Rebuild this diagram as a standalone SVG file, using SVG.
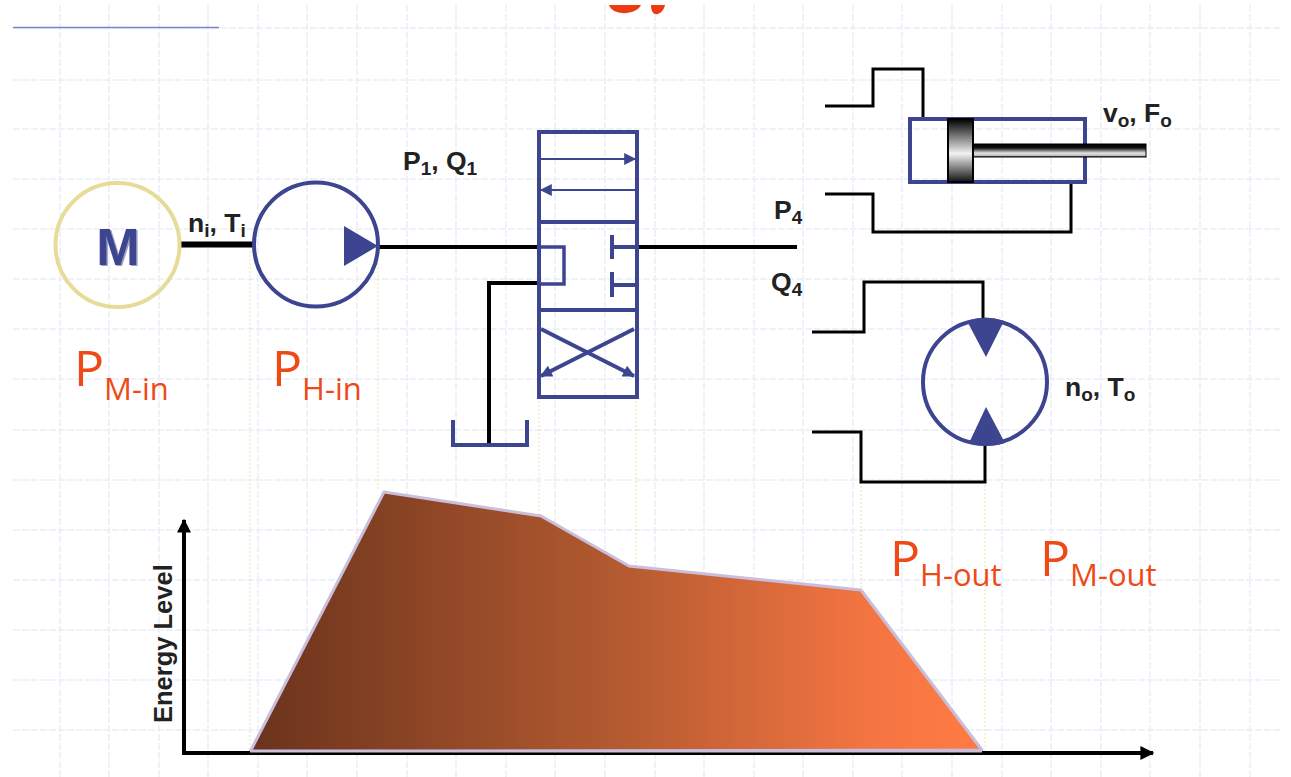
<svg xmlns="http://www.w3.org/2000/svg" width="1291" height="777" viewBox="0 0 1291 777">
<style>
.grid{stroke:#eceef7;stroke-width:1.500;stroke-dasharray:7 2;fill:none}
.blue{stroke:#3d4490;fill:none;stroke-linejoin:miter}
.fillb{fill:#3d4490}
.blk{stroke:#000;fill:none;stroke-linejoin:miter}
.guide{stroke:#e6e4a8;stroke-width:1;stroke-dasharray:2 2;fill:none}
.lab{font-family:"Liberation Sans",Arial,sans-serif;font-weight:700;font-size:26.500px;fill:#222}
.sub{font-size:19px}
.pw{font-family:"Open Sans","Noto Sans",sans-serif;font-size:50px;fill:#ee4a17}
.pws{font-size:31px}
</style>
<defs>
<linearGradient id="area" x1="250" x2="982" y1="0" y2="0" gradientUnits="userSpaceOnUse">
<stop offset="0" stop-color="#6a331c"/><stop offset="0.5" stop-color="#b35a30"/><stop offset="0.85" stop-color="#f47542"/><stop offset="1" stop-color="#ff7b45"/>
</linearGradient>
<linearGradient id="steel" x1="0" x2="0" y1="0" y2="1">
<stop offset="0" stop-color="#000"/><stop offset="0.55" stop-color="#f2f2f2"/><stop offset="1" stop-color="#111"/>
</linearGradient>
<linearGradient id="rod" x1="0" x2="0" y1="0" y2="1">
<stop offset="0" stop-color="#000"/><stop offset="0.3" stop-color="#111"/><stop offset="0.7" stop-color="#e4e4e4"/><stop offset="0.9" stop-color="#bbb"/><stop offset="1" stop-color="#222"/>
</linearGradient>
<marker id="ah" viewBox="0 0 10 10" refX="9" refY="5" markerWidth="14" markerHeight="12" markerUnits="userSpaceOnUse" orient="auto"><path d="M0 0L10 5L0 10Z" fill="#3d4490"/></marker>
<marker id="bk" viewBox="0 0 10 10" refX="9" refY="5" markerWidth="14" markerHeight="14" markerUnits="userSpaceOnUse" orient="auto"><path d="M0 0L10 5L0 10Z" fill="#000"/></marker>
</defs>
<rect width="1291" height="777" fill="#fff"/>
<g id="grid" class="grid">
<path d="M60 5V777M109 5V777M159 5V777M208 5V777M258 5V777M307 5V777M357 5V777M407 5V777M456 5V777M506 5V777M555 5V777M605 5V777M655 5V777M704 5V777M754 5V777M803 5V777M853 5V777M902 5V777M952 5V777M1002 5V777M1051 5V777M1101 5V777M1150 5V777M1200 5V777M1250 5V777"/>
<path d="M13 28H1280M13 80H1280M13 129H1280M13 179H1280M13 229H1280M13 279H1280M13 329H1280M13 379H1280M13 430H1280M13 480H1280M13 530H1280M13 580H1280M13 630H1280M13 680H1280M13 730H1280"/>
</g>
<g id="header">
<path d="M13 27.500H219" stroke="#7a83cc" stroke-width="1.500" fill="none"/>
<path d="M609 5H641C638 12 625 15 617 12C613 11 610 8 609 5Z" fill="#ee3a10"/>
<path d="M651 5H665C664 10 660 15 655 14C652 13 651 9 651 5Z" fill="#ee3a10"/>
</g>
<g id="guides" class="guide">
<path d="M250 247V750M378 247V490M539 397V516M636 397V566M861 482V590M985 445V750"/>
</g>
<g id="connectors">
<path class="blk" stroke-width="6" d="M180 244.500H253"/>
<path class="blk" stroke-width="4" d="M378 247H538"/>
<path class="blk" stroke-width="4" d="M637 247H797"/>
<path class="blk" stroke-width="4" d="M538 283H489V444"/>
<path class="blk" stroke-width="3" d="M825 106H873V69H923V119"/>
<path class="blk" stroke-width="3" d="M825 194H873V232H1071V182"/>
<path class="blk" stroke-width="3" d="M812 332H864V282H983V318"/>
<path class="blk" stroke-width="3" d="M812 432H861V482H985V445"/>
</g>
<g id="motor">
<circle cx="117.500" cy="245" r="62" fill="none" stroke="#e6dc98" stroke-width="4"/>
<text x="119.500" y="266" text-anchor="middle" font-family="Liberation Sans,sans-serif" font-weight="700" font-size="52" fill="#9aa0bb">M</text>
<text x="118" y="265" text-anchor="middle" font-family="Liberation Sans,sans-serif" font-weight="700" font-size="52" fill="#3d4490">M</text>
</g>
<g id="pump">
<circle cx="316" cy="244.500" r="62" fill="none" stroke="#3d4490" stroke-width="4"/>
<path class="fillb" d="M344 226L378 246L344 266Z"/>
</g>
<g id="valve">
<rect class="blue" stroke-width="4" x="539" y="132" width="98" height="265"/>
<path class="blue" stroke-width="4" d="M539 222H637M539 310H638"/>
<path class="blue" stroke-width="2" marker-end="url(#ah)" d="M541 159H635"/>
<path class="blue" stroke-width="2" marker-end="url(#ah)" d="M635 190H541"/>
<path class="blue" stroke-width="3.500" d="M539 247H564V284H539"/>
<path class="blue" stroke-width="4" d="M612 235V259M612 247H637M612 272V297M612 285H637"/>
<path class="blue" stroke-width="4" marker-end="url(#ah)" d="M541 329L634 376"/>
<path class="blue" stroke-width="4" marker-end="url(#ah)" d="M634 329L541 376"/>
</g>
<g id="tank">
<path class="blue" stroke-width="4" d="M453 420V445H527V420"/>
</g>
<g id="cylinder">
<rect class="blue" stroke-width="4" x="910" y="119" width="175" height="63"/>
<rect x="973" y="144" width="173" height="13" fill="url(#rod)" stroke="#000" stroke-width="1"/>
<rect x="948" y="119" width="25" height="63" fill="url(#steel)" stroke="#000" stroke-width="2"/>
</g>
<g id="hydraulic-motor">
<circle cx="985" cy="382" r="62" fill="none" stroke="#3d4490" stroke-width="4"/>
<path class="fillb" d="M967 321Q986 314 1004 321L986 357Z"/>
<path class="fillb" d="M969 443Q987 449 1005 443L986 407Z"/>
</g>
<g id="chart">
<path d="M250 752L384 492L541 516L629 566L861 590L982 750Z" fill="url(#area)" stroke="#c9bedb" stroke-width="3" stroke-linejoin="round"/>
<path class="blk" stroke-width="4" marker-end="url(#bk)" d="M184 753V520"/>
<path class="blk" stroke-width="4" marker-end="url(#bk)" d="M182 753H1153"/>
<path d="M250 751H982" stroke="#c9bedb" stroke-width="3"/>
<text transform="translate(172 723) rotate(-90)" font-family="Liberation Sans,sans-serif" font-weight="700" font-size="25.500" fill="#222">Energy Level</text>
</g>
<g id="labels">
<text class="lab" x="188" y="232">n<tspan class="sub" dy="5">i</tspan><tspan dy="-5">, T</tspan><tspan class="sub" dy="5">i</tspan></text>
<text class="lab" x="403" y="170">P<tspan class="sub" dy="5">1</tspan><tspan dy="-5">, Q</tspan><tspan class="sub" dy="5">1</tspan></text>
<text class="lab" x="774" y="219">P<tspan class="sub" dy="5">4</tspan></text>
<text class="lab" x="771" y="291">Q<tspan class="sub" dy="5">4</tspan></text>
<text class="lab" x="1103" y="122">v<tspan class="sub" dy="5">o</tspan><tspan dy="-5">, F</tspan><tspan class="sub" dy="5">o</tspan></text>
<text class="lab" x="1065" y="396">n<tspan class="sub" dy="5">o</tspan><tspan dy="-5">, T</tspan><tspan class="sub" dy="5">o</tspan></text>
<text class="pw" x="74" y="386">P<tspan class="pws" dy="14">M-in</tspan></text>
<text class="pw" x="272" y="386">P<tspan class="pws" dy="14">H-in</tspan></text>
<text class="pw" x="890" y="576">P<tspan class="pws" dy="10">H-out</tspan></text>
<text class="pw" x="1040" y="576">P<tspan class="pws" dy="10">M-out</tspan></text>
</g>
</svg>
